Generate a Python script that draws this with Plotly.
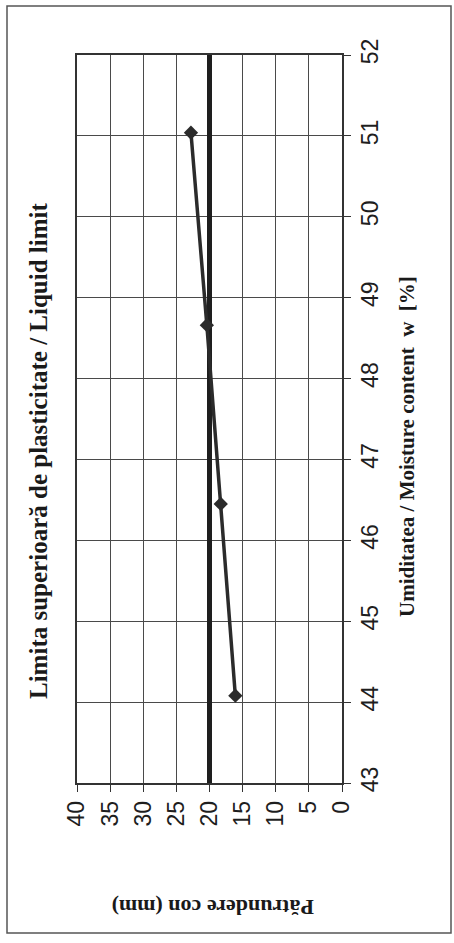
import plotly.graph_objects as go

# Data (moisture content w [%] vs cone penetration [mm])
moisture = [44.08, 46.45, 48.66, 51.04]
penetration = [16.1, 18.3, 20.4, 22.8]
liquid_limit_penetration = 20
x_ticks = [0, 5, 10, 15, 20, 25, 30, 35, 40]
y_ticks = [43, 44, 45, 46, 47, 48, 49, 50, 51, 52]

title_text = "Limita superioară de plasticitate / Liquid limit"
moist_title = "Umiditatea / Moisture content&nbsp;&nbsp;w&nbsp;&nbsp;[%]"
pen_title = "Pătrundere con (mm)"

W, H = 454, 943
L, R, T, B = 77, 342, 55, 783  # plot area pixel box

def px(xp):
    return (xp - L) / (R - L)

def py(yp):
    return (B - yp) / (B - T)

fig = go.Figure()
fig.add_trace(go.Scatter(
    x=[liquid_limit_penetration, liquid_limit_penetration], y=[y_ticks[0], y_ticks[-1]],
    mode="lines", line=dict(color="#1e1e1e", width=5), showlegend=False, hoverinfo="skip"))
fig.add_trace(go.Scatter(
    x=penetration, y=moisture, mode="lines+markers",
    line=dict(color="#2b2b2b", width=3.5),
    marker=dict(symbol="diamond", size=11, color="#2b2b2b"),
    showlegend=False))

axis_common = dict(
    showgrid=True, gridcolor="#4a4a4a", gridwidth=1,
    showline=True, linecolor="#333333", linewidth=1.5, mirror=True,
    ticks="outside", ticklen=7, tickcolor="#333333", tickwidth=1,
    tickangle=-90, zeroline=False, automargin=False,
    tickfont=dict(family="Liberation Sans, Arial", size=23, color="#1e1e1e"),
)
fig.update_xaxes(range=[40, 0], tickvals=x_ticks, ticktext=[str(v) for v in x_ticks], **axis_common)
fig.update_yaxes(range=[43, 52], tickvals=y_ticks, side="right", **axis_common)

serif = dict(family="Liberation Serif, Times New Roman", color="#1a1a1a")
fig.add_annotation(text="<b>" + title_text + "</b>", xref="paper", yref="paper",
                   x=px(38), y=py(451), textangle=-90, showarrow=False,
                   xanchor="center", yanchor="middle", font=dict(size=25, **serif))
fig.add_annotation(text="<b>" + moist_title + "</b>", xref="paper", yref="paper",
                   x=px(407), y=py(447), textangle=-90, showarrow=False,
                   xanchor="center", yanchor="middle", font=dict(size=21, **serif))
fig.add_annotation(text="<b>" + pen_title + "</b>", xref="paper", yref="paper",
                   x=px(213), y=py(908), textangle=180, showarrow=False,
                   xanchor="center", yanchor="middle", font=dict(size=22, **serif))

fig.add_shape(type="rect", xref="paper", yref="paper",
              x0=px(7), x1=px(451), y0=py(933), y1=py(6),
              line=dict(color="#555555", width=1.5), fillcolor="rgba(0,0,0,0)", layer="below")

fig.update_layout(
    width=W, height=H,
    margin=dict(l=L, r=W - R, t=T, b=H - B),
    paper_bgcolor="white", plot_bgcolor="white",
)

fig.write_html("out.html", config={"displayModeBar": False},
               post_script="document.body.style.margin='0px';")
